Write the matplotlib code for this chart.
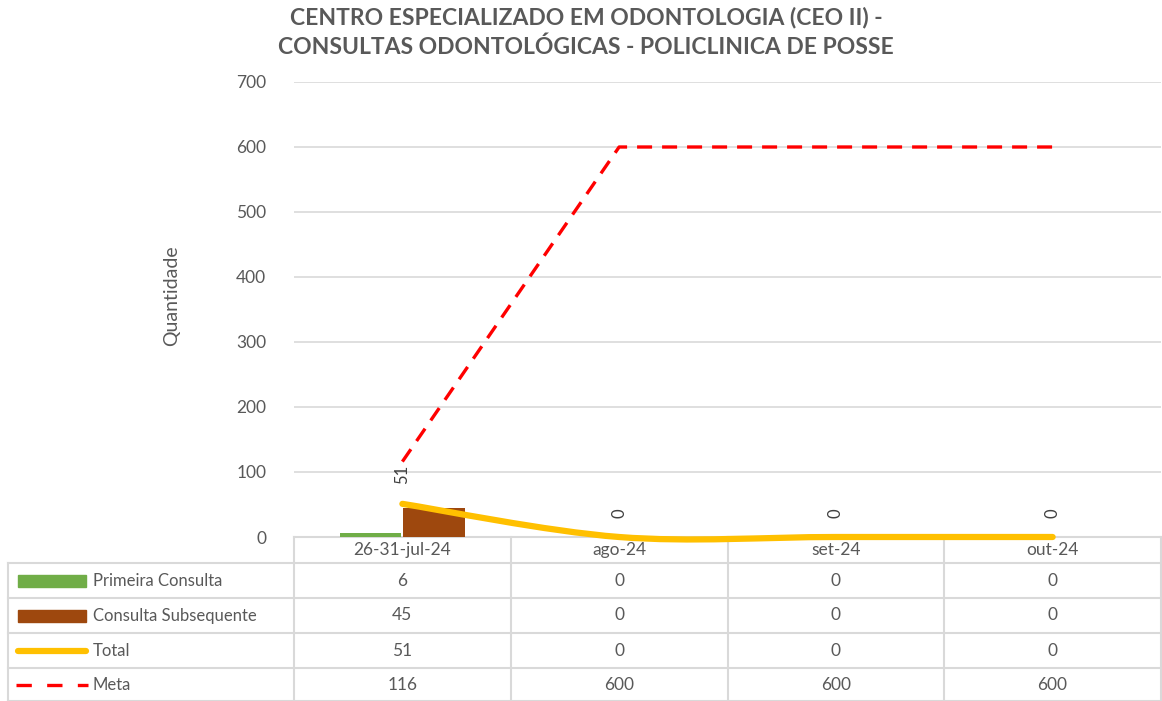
import numpy as np
import matplotlib.pyplot as plt
from matplotlib.path import Path
from matplotlib.patches import PathPatch, Rectangle
from matplotlib.lines import Line2D

plt.rcParams["font.family"] = ["Lato", "DejaVu Sans"]

categories = ["26-31-jul-24", "ago-24", "set-24", "out-24"]
primeira = [6, 0, 0, 0]
subsequente = [45, 0, 0, 0]
total = [51, 0, 0, 0]
meta = [116, 600, 600, 600]
series_names = ["Primeira Consulta", "Consulta Subsequente", "Total", "Meta"]

green = "#70ad47"
brown = "#9e480e"
yellow = "#ffc000"
red = "#ff0000"
grid = "#d9d9d9"
txt = "#595959"

W, H = 1162, 701
fig = plt.figure(figsize=(W / 100, H / 100), dpi=100)
x0, x1, y0, y1 = 294, 1161, 537, 82
ax = fig.add_axes([x0 / W, 1 - y0 / H, (x1 - x0) / W, (y0 - y1) / H])
ax.set_facecolor("none")

n = len(categories)
x = np.arange(n)
bw = 0.285
ax.bar(x - 0.147, primeira, bw, color=green, zorder=2)
ax.bar(x + 0.147, subsequente, bw, color=brown, zorder=2)


# excel-like smoothed line (catmull-rom as bezier)
def smooth_path(xs, ys):
    pts = np.column_stack([xs, ys]).astype(float)
    verts = [pts[0]]
    codes = [Path.MOVETO]
    for i in range(len(pts) - 1):
        p_prev = pts[i - 1] if i > 0 else pts[i]
        p_next = pts[i + 2] if i + 2 < len(pts) else pts[i + 1]
        c1 = pts[i] + (pts[i + 1] - p_prev) / 6
        c2 = pts[i + 1] - (p_next - pts[i]) / 6
        verts += [c1, c2, pts[i + 1]]
        codes += [Path.CURVE4] * 3
    return Path(verts, codes)


ax.add_patch(PathPatch(smooth_path(x, total), facecolor="none", edgecolor=yellow,
                       lw=4.5, capstyle="round", zorder=3, clip_on=False))
ax.plot(x, meta, color=red, lw=2.4, dashes=(4.5, 3), zorder=4)

for xi, v in zip(x, total):
    ax.annotate(str(v), (xi, v), xytext=(0, 14), textcoords="offset points",
                rotation=90, ha="center", va="bottom", fontsize=12, color="#404040")

ax.set_xlim(-0.5, n - 0.5)
ax.set_ylim(0, 700)
ax.set_yticks(range(0, 701, 100))
ax.tick_params(axis="y", length=0, labelsize=12.5, labelcolor=txt, pad=20)
ax.set_xticks([])
ax.grid(axis="y", color=grid, lw=1.2, zorder=0)
for s in ax.spines.values():
    s.set_visible(False)
ax.set_ylabel("Quantidade", fontsize=14, color=txt)
ax.yaxis.set_label_coords((180 - x0) / (x1 - x0), 0.53)

# data table under the axis
def fx(px):
    return px / W


def fy(py):
    return 1 - py / H


col_edges = [x0 + (x1 - x0) * i / n for i in range(n + 1)]
rows = [537, 563, 598, 633, 668, 701]
lc = grid
# horizontal lines (behind the axes so the total line sits on top)
fig.add_artist(Line2D([fx(x0), fx(x1)], [fy(rows[0])] * 2, color=lc, lw=1.5, zorder=-1))
for r in rows[1:]:
    fig.add_artist(Line2D([fx(8), fx(x1)], [fy(r)] * 2, color=lc, lw=1.5, zorder=-1))
# vertical lines
for c in col_edges:
    fig.add_artist(Line2D([fx(c)] * 2, [fy(rows[0]), fy(rows[-1])], color=lc, lw=1.5, zorder=-1))
fig.add_artist(Line2D([fx(8)] * 2, [fy(rows[1]), fy(rows[-1])], color=lc, lw=1.5, zorder=-1))

for i, cat in enumerate(categories):
    cx = (col_edges[i] + col_edges[i + 1]) / 2
    fig.text(fx(cx), fy((rows[0] + rows[1]) / 2), cat, ha="center", va="center",
             fontsize=12.5, color=txt)

table_vals = [primeira, subsequente, total, meta]
for j, vals in enumerate(table_vals):
    cy = (rows[j + 1] + rows[j + 2]) / 2
    for i, v in enumerate(vals):
        cx = (col_edges[i] + col_edges[i + 1]) / 2
        fig.text(fx(cx), fy(cy), str(v), ha="center", va="center", fontsize=12.5, color=txt)
    fig.text(fx(93), fy(cy), series_names[j], ha="left", va="center", fontsize=12, color=txt)

# legend keys
for j, col in enumerate([green, brown]):
    cy = (rows[j + 1] + rows[j + 2]) / 2
    fig.add_artist(Rectangle((fx(18), fy(cy + 6)), fx(86) - fx(18), (12) / H,
                             color=col, transform=fig.transFigure))
cy = (rows[3] + rows[4]) / 2
fig.add_artist(Line2D([fx(18), fx(86)], [fy(cy)] * 2, color=yellow, lw=4.5,
                      solid_capstyle="round"))
cy = (rows[4] + rows[5]) / 2
fig.add_artist(Line2D([fx(16), fx(88)], [fy(cy)] * 2, color=red, lw=2.4,
                      dashes=(4.6, 4.6)))

fig.text(fx(586), fy(17), "CENTRO ESPECIALIZADO EM ODONTOLOGIA (CEO II) -",
         ha="center", va="center", fontsize=16.5, fontweight="bold", color=txt)
fig.text(fx(586), fy(47), "CONSULTAS ODONTOLÓGICAS - POLICLINICA DE POSSE",
         ha="center", va="center", fontsize=16.5, fontweight="bold", color=txt)

fig.savefig("out.png", dpi=100)
